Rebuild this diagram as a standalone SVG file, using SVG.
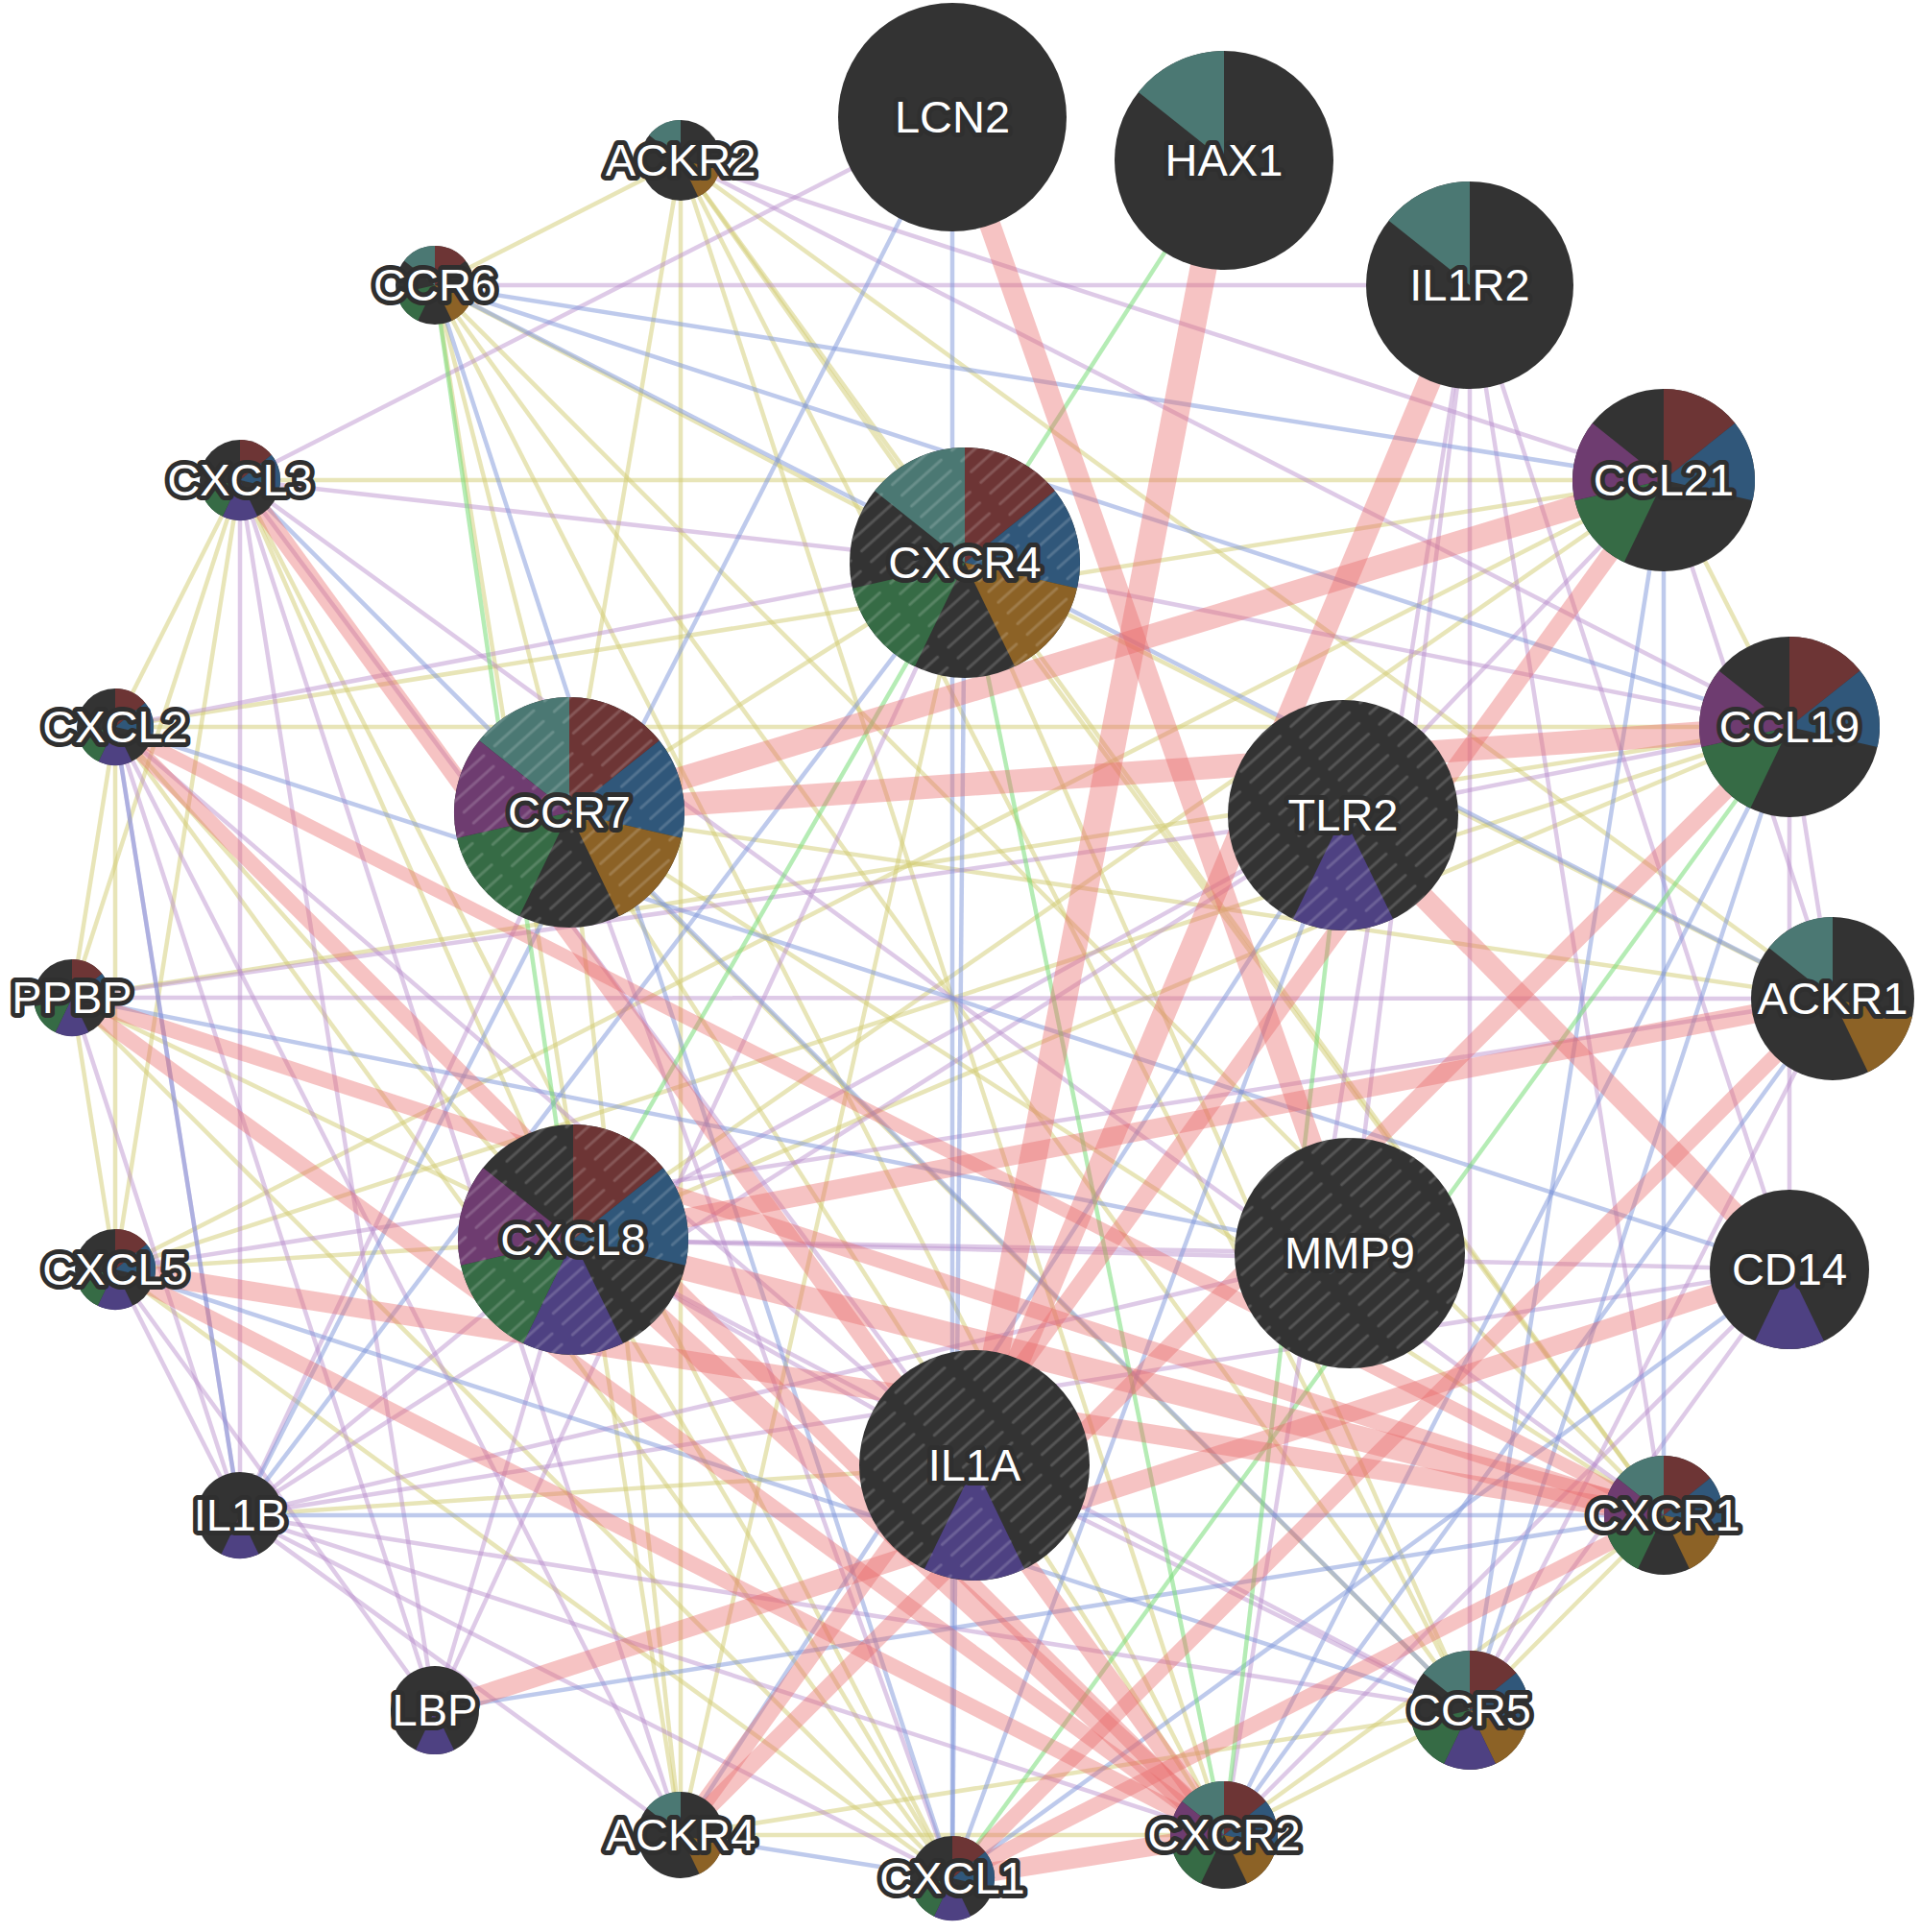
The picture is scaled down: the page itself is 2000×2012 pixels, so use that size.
<svg xmlns="http://www.w3.org/2000/svg" xmlns:xlink="http://www.w3.org/1999/xlink" width="2000" height="2012" viewBox="0 0 2000 2012">
<style>
.p{stroke:#e86a6a;stroke-opacity:.4;fill:none}
.c{stroke:#b58ac9;stroke-opacity:.45;stroke-width:4.5;fill:none}
.s{stroke:#d2cc72;stroke-opacity:.5;stroke-width:4.5;fill:none}
.l{stroke:#7d95d9;stroke-opacity:.5;stroke-width:4.5;fill:none}
.g{stroke:#79dc79;stroke-opacity:.55;stroke-width:4.5;fill:none}
.base{fill:#333333}
.lb{font-family:"Liberation Sans",Arial,sans-serif;font-size:47px;fill:#ffffff;stroke:#2f2f2f;stroke-width:10px;paint-order:stroke;stroke-linejoin:round;text-anchor:middle}
</style>
<defs>
<path id="w1" fill="#6d3535" d="M0,0 L0,-100 A100,100 0 0 1 78.18,-62.35 Z"/>
<path id="w2" fill="#30577a" d="M0,0 L78.18,-62.35 A100,100 0 0 1 97.49,22.25 Z"/>
<path id="w3" fill="#8c6226" d="M0,0 L97.49,22.25 A100,100 0 0 1 43.39,90.1 Z"/>
<path id="w4" fill="#4e4182" d="M0,0 L43.39,90.1 A100,100 0 0 1 -43.39,90.1 Z"/>
<path id="w5" fill="#366b45" d="M0,0 L-43.39,90.1 A100,100 0 0 1 -97.49,22.25 Z"/>
<path id="w6" fill="#6e3c70" d="M0,0 L-97.49,22.25 A100,100 0 0 1 -78.18,-62.35 Z"/>
<path id="w7" fill="#4b7873" d="M0,0 L-78.18,-62.35 A100,100 0 0 1 0,-100 Z"/>
<pattern id="hatch" patternUnits="userSpaceOnUse" width="70" height="15" patternTransform="rotate(-42)">
<line x1="3" y1="7" x2="58" y2="7" stroke="#ffffff" stroke-opacity="0.17" stroke-width="3" stroke-linecap="round"/>
</pattern>
</defs>
<rect width="2000" height="2012" fill="#ffffff"/>
<g id="edges">
<line class="s" x1="453" y1="297" x2="709" y2="167"/>
<line class="s" x1="453" y1="297" x2="593" y2="846"/>
<line class="s" x1="453" y1="297" x2="1005" y2="586"/>
<line class="s" x1="453" y1="297" x2="1531" y2="1781"/>
<line class="s" x1="453" y1="297" x2="1733" y2="1578"/>
<line class="s" x1="453" y1="297" x2="1275" y2="1911"/>
<line class="s" x1="453" y1="297" x2="709" y2="1911"/>
<line class="s" x1="709" y1="167" x2="593" y2="846"/>
<line class="s" x1="709" y1="167" x2="1005" y2="586"/>
<line class="s" x1="709" y1="167" x2="1531" y2="1781"/>
<line class="s" x1="709" y1="167" x2="1733" y2="1578"/>
<line class="s" x1="709" y1="167" x2="1275" y2="1911"/>
<line class="s" x1="709" y1="167" x2="709" y2="1911"/>
<line class="s" x1="709" y1="167" x2="1909" y2="1040"/>
<line class="s" x1="593" y1="846" x2="1005" y2="586"/>
<line class="s" x1="593" y1="846" x2="1531" y2="1781"/>
<line class="s" x1="593" y1="846" x2="1733" y2="1578"/>
<line class="s" x1="593" y1="846" x2="1275" y2="1911"/>
<line class="s" x1="593" y1="846" x2="709" y2="1911"/>
<line class="s" x1="593" y1="846" x2="1909" y2="1040"/>
<line class="s" x1="1005" y1="586" x2="1531" y2="1781"/>
<line class="s" x1="1005" y1="586" x2="1733" y2="1578"/>
<line class="s" x1="1005" y1="586" x2="709" y2="1911"/>
<line class="s" x1="1005" y1="586" x2="1909" y2="1040"/>
<line class="s" x1="1531" y1="1781" x2="1733" y2="1578"/>
<line class="s" x1="1531" y1="1781" x2="1275" y2="1911"/>
<line class="s" x1="1531" y1="1781" x2="709" y2="1911"/>
<line class="s" x1="1733" y1="1578" x2="1275" y2="1911"/>
<line class="s" x1="1275" y1="1911" x2="709" y2="1911"/>
<line class="s" x1="992" y1="1956" x2="120" y2="757"/>
<line class="s" x1="992" y1="1956" x2="250" y2="500"/>
<line class="s" x1="992" y1="1956" x2="120" y2="1322"/>
<line class="s" x1="992" y1="1956" x2="597" y2="1291"/>
<line class="s" x1="992" y1="1956" x2="75" y2="1039"/>
<line class="s" x1="120" y1="757" x2="250" y2="500"/>
<line class="s" x1="120" y1="757" x2="120" y2="1322"/>
<line class="s" x1="120" y1="757" x2="597" y2="1291"/>
<line class="s" x1="120" y1="757" x2="75" y2="1039"/>
<line class="s" x1="250" y1="500" x2="120" y2="1322"/>
<line class="s" x1="250" y1="500" x2="597" y2="1291"/>
<line class="s" x1="250" y1="500" x2="75" y2="1039"/>
<line class="s" x1="120" y1="1322" x2="597" y2="1291"/>
<line class="s" x1="120" y1="1322" x2="75" y2="1039"/>
<line class="s" x1="597" y1="1291" x2="75" y2="1039"/>
<line class="s" x1="1864" y1="757" x2="1733" y2="500"/>
<line class="s" x1="1864" y1="757" x2="597" y2="1291"/>
<line class="s" x1="1733" y1="500" x2="597" y2="1291"/>
<line class="s" x1="1864" y1="757" x2="120" y2="757"/>
<line class="s" x1="1733" y1="500" x2="250" y2="500"/>
<line class="s" x1="1864" y1="757" x2="75" y2="1039"/>
<line class="s" x1="1733" y1="500" x2="120" y2="757"/>
<line class="s" x1="1733" y1="500" x2="120" y2="1322"/>
<line class="s" x1="1864" y1="757" x2="120" y2="1322"/>
<line class="s" x1="1015" y1="1526" x2="250" y2="1578"/>
<line class="c" x1="250" y1="1578" x2="597" y2="1291"/>
<line class="c" x1="250" y1="1578" x2="120" y2="757"/>
<line class="c" x1="250" y1="1578" x2="250" y2="500"/>
<line class="c" x1="250" y1="1578" x2="992" y2="1956"/>
<line class="c" x1="250" y1="1578" x2="1399" y2="849"/>
<line class="c" x1="250" y1="1578" x2="1864" y2="1322"/>
<line class="c" x1="250" y1="1578" x2="1406" y2="1305"/>
<line class="c" x1="250" y1="1578" x2="1275" y2="1911"/>
<line class="c" x1="250" y1="1578" x2="593" y2="846"/>
<line class="c" x1="250" y1="1578" x2="1531" y2="1781"/>
<line class="c" x1="1015" y1="1526" x2="597" y2="1291"/>
<line class="c" x1="1015" y1="1526" x2="250" y2="500"/>
<line class="c" x1="1015" y1="1526" x2="120" y2="757"/>
<line class="c" x1="597" y1="1291" x2="1406" y2="1305"/>
<line class="c" x1="597" y1="1291" x2="1399" y2="849"/>
<line class="c" x1="597" y1="1291" x2="1864" y2="1322"/>
<line class="c" x1="597" y1="1291" x2="453" y2="1781"/>
<line class="c" x1="1864" y1="1322" x2="1531" y2="1781"/>
<line class="c" x1="1864" y1="1322" x2="1275" y2="1911"/>
<line class="c" x1="1864" y1="1322" x2="1864" y2="757"/>
<line class="c" x1="1531" y1="297" x2="1864" y2="1322"/>
<line class="c" x1="1531" y1="297" x2="1733" y2="1578"/>
<line class="c" x1="1531" y1="297" x2="1406" y2="1305"/>
<line class="c" x1="1531" y1="297" x2="1275" y2="1911"/>
<line class="c" x1="1531" y1="297" x2="1531" y2="1781"/>
<line class="c" x1="1531" y1="297" x2="453" y2="297"/>
<line class="c" x1="709" y1="167" x2="1733" y2="500"/>
<line class="c" x1="709" y1="167" x2="1864" y2="757"/>
<line class="c" x1="992" y1="122" x2="250" y2="500"/>
<line class="c" x1="593" y1="846" x2="992" y2="1956"/>
<line class="c" x1="1005" y1="586" x2="250" y2="500"/>
<line class="c" x1="1005" y1="586" x2="120" y2="757"/>
<line class="c" x1="1005" y1="586" x2="1864" y2="757"/>
<line class="c" x1="1005" y1="586" x2="453" y2="1781"/>
<line class="c" x1="1733" y1="1578" x2="250" y2="500"/>
<line class="c" x1="120" y1="1322" x2="250" y2="1578"/>
<line class="c" x1="120" y1="1322" x2="453" y2="1781"/>
<line class="c" x1="75" y1="1039" x2="250" y2="1578"/>
<line class="c" x1="75" y1="1039" x2="1399" y2="849"/>
<line class="c" x1="120" y1="757" x2="453" y2="1781"/>
<line class="c" x1="250" y1="500" x2="453" y2="1781"/>
<line class="c" x1="120" y1="757" x2="709" y2="1911"/>
<line class="c" x1="250" y1="500" x2="709" y2="1911"/>
<line class="c" x1="1733" y1="500" x2="1399" y2="849"/>
<line class="c" x1="1864" y1="757" x2="1399" y2="849"/>
<line class="c" x1="1733" y1="500" x2="1909" y2="1040"/>
<line class="c" x1="1864" y1="757" x2="1909" y2="1040"/>
<line class="c" x1="1909" y1="1040" x2="1531" y2="1781"/>
<line class="c" x1="1909" y1="1040" x2="120" y2="1322"/>
<line class="c" x1="1909" y1="1040" x2="75" y2="1039"/>
<line class="c" x1="1531" y1="1781" x2="1015" y2="1526"/>
<line class="c" x1="1531" y1="1781" x2="597" y2="1291"/>
<line class="c" x1="709" y1="1911" x2="250" y2="1578"/>
<line class="l" x1="453" y1="297" x2="1733" y2="500"/>
<line class="l" x1="453" y1="297" x2="1864" y2="757"/>
<line class="l" x1="453" y1="297" x2="1909" y2="1040"/>
<line class="l" x1="453" y1="297" x2="992" y2="1956"/>
<line class="l" x1="992" y1="122" x2="992" y2="1956"/>
<line class="l" x1="992" y1="122" x2="250" y2="1578"/>
<line class="l" x1="120" y1="757" x2="1864" y2="1322"/>
<line class="l" x1="250" y1="500" x2="1531" y2="1781"/>
<line class="l" x1="120" y1="1322" x2="1531" y2="1781"/>
<line class="l" x1="75" y1="1039" x2="1406" y2="1305"/>
<line class="l" x1="250" y1="1578" x2="1005" y2="586"/>
<line class="l" x1="1864" y1="757" x2="1275" y2="1911"/>
<line class="l" x1="1733" y1="500" x2="1733" y2="1578"/>
<line class="l" x1="1733" y1="500" x2="1531" y2="1781"/>
<line class="l" x1="1864" y1="757" x2="1531" y2="1781"/>
<line class="l" x1="1909" y1="1040" x2="1275" y2="1911"/>
<line class="l" x1="1864" y1="1322" x2="992" y2="1956"/>
<line class="l" x1="1399" y1="849" x2="992" y2="1956"/>
<line class="l" x1="1399" y1="849" x2="709" y2="1911"/>
<line class="l" x1="1005" y1="586" x2="992" y2="1956"/>
<line class="l" x1="453" y1="1781" x2="1733" y2="1578"/>
<line class="l" x1="250" y1="1578" x2="1733" y2="1578"/>
<line class="l" x1="709" y1="1911" x2="992" y2="1956"/>
<line class="l" x1="120" y1="757" x2="250" y2="1578"/>
<line class="g" x1="1275" y1="167" x2="1005" y2="586"/>
<line class="g" x1="453" y1="297" x2="597" y2="1291"/>
<line class="g" x1="1399" y1="849" x2="1275" y2="1911"/>
<line class="g" x1="597" y1="1291" x2="1005" y2="586"/>
<line class="g" x1="1864" y1="757" x2="992" y2="1956"/>
<line class="g" x1="1005" y1="586" x2="1275" y2="1911"/>
<line class="p" stroke-width="22" x1="992" y1="122" x2="1406" y2="1305"/>
<line class="p" stroke-width="28" x1="1275" y1="167" x2="1015" y2="1526"/>
<line class="p" stroke-width="24" x1="1531" y1="297" x2="1015" y2="1526"/>
<line class="p" stroke-width="24" x1="1733" y1="500" x2="593" y2="846"/>
<line class="p" stroke-width="24" x1="1864" y1="757" x2="593" y2="846"/>
<line class="p" stroke-width="18" x1="1733" y1="500" x2="709" y2="1911"/>
<line class="p" stroke-width="18" x1="1864" y1="757" x2="709" y2="1911"/>
<line class="p" stroke-width="26" x1="597" y1="1291" x2="1733" y2="1578"/>
<line class="p" stroke-width="24" x1="597" y1="1291" x2="1275" y2="1911"/>
<line class="p" stroke-width="20" x1="597" y1="1291" x2="1909" y2="1040"/>
<line class="p" stroke-width="20" x1="992" y1="1956" x2="1275" y2="1911"/>
<line class="p" stroke-width="16" x1="992" y1="1956" x2="1909" y2="1040"/>
<line class="p" stroke-width="16" x1="992" y1="1956" x2="1733" y2="1578"/>
<line class="p" stroke-width="16" x1="120" y1="757" x2="1275" y2="1911"/>
<line class="p" stroke-width="18" x1="250" y1="500" x2="1275" y2="1911"/>
<line class="p" stroke-width="16" x1="120" y1="1322" x2="1275" y2="1911"/>
<line class="p" stroke-width="20" x1="120" y1="1322" x2="1733" y2="1578"/>
<line class="p" stroke-width="16" x1="75" y1="1039" x2="1275" y2="1911"/>
<line class="p" stroke-width="16" x1="75" y1="1039" x2="1733" y2="1578"/>
<line class="p" stroke-width="22" x1="1399" y1="849" x2="1864" y2="1322"/>
<line class="p" stroke-width="20" x1="453" y1="1781" x2="1864" y2="1322"/>
<line class="p" stroke-width="14" x1="120" y1="757" x2="1733" y2="1578"/>
</g>
<g id="node-LCN2"><circle class="base" cx="992" cy="122" r="119"/><text class="lb" x="992" y="138">LCN2</text></g>
<g id="node-HAX1"><circle class="base" cx="1275" cy="167" r="114"/><use href="#w7" transform="translate(1275 167) scale(1.14)"/><text class="lb" x="1275" y="183">HAX1</text></g>
<g id="node-IL1R2"><circle class="base" cx="1531" cy="297" r="108"/><use href="#w7" transform="translate(1531 297) scale(1.08)"/><text class="lb" x="1531" y="313">IL1R2</text></g>
<g id="node-CCL21"><circle class="base" cx="1733" cy="500" r="95"/>
<use href="#w1" transform="translate(1733 500) scale(.95)"/><use href="#w2" transform="translate(1733 500) scale(.95)"/><use href="#w5" transform="translate(1733 500) scale(.95)"/><use href="#w6" transform="translate(1733 500) scale(.95)"/>
<text class="lb" x="1733" y="516">CCL21</text></g>
<g id="node-CCL19"><circle class="base" cx="1864" cy="757" r="94"/>
<use href="#w1" transform="translate(1864 757) scale(.94)"/><use href="#w2" transform="translate(1864 757) scale(.94)"/><use href="#w5" transform="translate(1864 757) scale(.94)"/><use href="#w6" transform="translate(1864 757) scale(.94)"/>
<text class="lb" x="1864" y="773">CCL19</text></g>
<g id="node-ACKR1"><circle class="base" cx="1909" cy="1040" r="85"/>
<use href="#w7" transform="translate(1909 1040) scale(.85)"/><use href="#w3" transform="translate(1909 1040) scale(.85)"/>
<text class="lb" x="1909" y="1056">ACKR1</text></g>
<g id="node-CD14"><circle class="base" cx="1864" cy="1322" r="83"/>
<use href="#w4" transform="translate(1864 1322) scale(.83)"/>
<text class="lb" x="1864" y="1338">CD14</text></g>
<g id="node-CXCR1"><circle class="base" cx="1733" cy="1578" r="62"/>
<use href="#w7" transform="translate(1733 1578) scale(.62)"/><use href="#w1" transform="translate(1733 1578) scale(.62)"/><use href="#w2" transform="translate(1733 1578) scale(.62)"/><use href="#w3" transform="translate(1733 1578) scale(.62)"/><use href="#w5" transform="translate(1733 1578) scale(.62)"/><use href="#w6" transform="translate(1733 1578) scale(.62)"/>
<text class="lb" x="1733" y="1594">CXCR1</text></g>
<g id="node-CCR5"><circle class="base" cx="1531" cy="1781" r="62"/>
<use href="#w7" transform="translate(1531 1781) scale(.62)"/><use href="#w1" transform="translate(1531 1781) scale(.62)"/><use href="#w2" transform="translate(1531 1781) scale(.62)"/><use href="#w3" transform="translate(1531 1781) scale(.62)"/><use href="#w4" transform="translate(1531 1781) scale(.62)"/><use href="#w5" transform="translate(1531 1781) scale(.62)"/>
<text class="lb" x="1531" y="1797">CCR5</text></g>
<g id="node-CXCR2"><circle class="base" cx="1275" cy="1911" r="56"/>
<use href="#w7" transform="translate(1275 1911) scale(.56)"/><use href="#w1" transform="translate(1275 1911) scale(.56)"/><use href="#w2" transform="translate(1275 1911) scale(.56)"/><use href="#w3" transform="translate(1275 1911) scale(.56)"/><use href="#w5" transform="translate(1275 1911) scale(.56)"/><use href="#w6" transform="translate(1275 1911) scale(.56)"/>
<text class="lb" x="1275" y="1927">CXCR2</text></g>
<g id="node-CXCL1"><circle class="base" cx="992" cy="1956" r="44"/>
<use href="#w1" transform="translate(992 1956) scale(.44)"/><use href="#w2" transform="translate(992 1956) scale(.44)"/><use href="#w4" transform="translate(992 1956) scale(.44)"/><use href="#w5" transform="translate(992 1956) scale(.44)"/>
<text class="lb" x="992" y="1972">CXCL1</text></g>
<g id="node-ACKR4"><circle class="base" cx="709" cy="1911" r="45"/>
<use href="#w7" transform="translate(709 1911) scale(.45)"/><use href="#w3" transform="translate(709 1911) scale(.45)"/>
<text class="lb" x="709" y="1927">ACKR4</text></g>
<g id="node-LBP"><circle class="base" cx="453" cy="1781" r="46"/>
<use href="#w4" transform="translate(453 1781) scale(.46)"/>
<text class="lb" x="453" y="1797">LBP</text></g>
<g id="node-IL1B"><circle class="base" cx="250" cy="1578" r="45"/>
<use href="#w4" transform="translate(250 1578) scale(.45)"/>
<text class="lb" x="250" y="1594">IL1B</text></g>
<g id="node-CXCL5"><circle class="base" cx="120" cy="1322" r="42"/>
<use href="#w1" transform="translate(120 1322) scale(.42)"/><use href="#w2" transform="translate(120 1322) scale(.42)"/><use href="#w4" transform="translate(120 1322) scale(.42)"/><use href="#w5" transform="translate(120 1322) scale(.42)"/>
<text class="lb" x="120" y="1338">CXCL5</text></g>
<g id="node-PPBP"><circle class="base" cx="75" cy="1039" r="40"/>
<use href="#w1" transform="translate(75 1039) scale(.4)"/><use href="#w2" transform="translate(75 1039) scale(.4)"/><use href="#w4" transform="translate(75 1039) scale(.4)"/><use href="#w5" transform="translate(75 1039) scale(.4)"/>
<text class="lb" x="75" y="1055">PPBP</text></g>
<g id="node-CXCL2"><circle class="base" cx="120" cy="757" r="40"/>
<use href="#w1" transform="translate(120 757) scale(.4)"/><use href="#w2" transform="translate(120 757) scale(.4)"/><use href="#w4" transform="translate(120 757) scale(.4)"/><use href="#w5" transform="translate(120 757) scale(.4)"/>
<text class="lb" x="120" y="773">CXCL2</text></g>
<g id="node-CXCL3"><circle class="base" cx="250" cy="500" r="42"/>
<use href="#w1" transform="translate(250 500) scale(.42)"/><use href="#w2" transform="translate(250 500) scale(.42)"/><use href="#w4" transform="translate(250 500) scale(.42)"/><use href="#w5" transform="translate(250 500) scale(.42)"/>
<text class="lb" x="250" y="516">CXCL3</text></g>
<g id="node-CCR6"><circle class="base" cx="453" cy="297" r="41"/>
<use href="#w7" transform="translate(453 297) scale(.41)"/><use href="#w1" transform="translate(453 297) scale(.41)"/><use href="#w3" transform="translate(453 297) scale(.41)"/><use href="#w5" transform="translate(453 297) scale(.41)"/>
<text class="lb" x="453" y="313">CCR6</text></g>
<g id="node-ACKR2"><circle class="base" cx="709" cy="167" r="42"/>
<use href="#w7" transform="translate(709 167) scale(.42)"/><use href="#w3" transform="translate(709 167) scale(.42)"/>
<text class="lb" x="709" y="183">ACKR2</text></g>
<g id="node-CXCR4"><circle class="base" cx="1005" cy="586" r="120"/>
<use href="#w7" transform="translate(1005 586) scale(1.2)"/><use href="#w1" transform="translate(1005 586) scale(1.2)"/><use href="#w2" transform="translate(1005 586) scale(1.2)"/><use href="#w3" transform="translate(1005 586) scale(1.2)"/><use href="#w5" transform="translate(1005 586) scale(1.2)"/>
<circle cx="1005" cy="586" r="120" fill="url(#hatch)"/>
<text class="lb" x="1005" y="602">CXCR4</text></g>
<g id="node-CCR7"><circle class="base" cx="593" cy="846" r="120"/>
<use href="#w7" transform="translate(593 846) scale(1.2)"/><use href="#w1" transform="translate(593 846) scale(1.2)"/><use href="#w2" transform="translate(593 846) scale(1.2)"/><use href="#w3" transform="translate(593 846) scale(1.2)"/><use href="#w5" transform="translate(593 846) scale(1.2)"/><use href="#w6" transform="translate(593 846) scale(1.2)"/>
<circle cx="593" cy="846" r="120" fill="url(#hatch)"/>
<text class="lb" x="593" y="862">CCR7</text></g>
<g id="node-TLR2"><circle class="base" cx="1399" cy="849" r="120"/>
<use href="#w4" transform="translate(1399 849) scale(1.2)"/>
<circle cx="1399" cy="849" r="120" fill="url(#hatch)"/>
<text class="lb" x="1399" y="865">TLR2</text></g>
<g id="node-CXCL8"><circle class="base" cx="597" cy="1291" r="120"/>
<use href="#w1" transform="translate(597 1291) scale(1.2)"/><use href="#w2" transform="translate(597 1291) scale(1.2)"/><use href="#w4" transform="translate(597 1291) scale(1.2)"/><use href="#w5" transform="translate(597 1291) scale(1.2)"/><use href="#w6" transform="translate(597 1291) scale(1.2)"/>
<circle cx="597" cy="1291" r="120" fill="url(#hatch)"/>
<text class="lb" x="597" y="1307">CXCL8</text></g>
<g id="node-MMP9"><circle class="base" cx="1406" cy="1305" r="120"/>
<circle cx="1406" cy="1305" r="120" fill="url(#hatch)"/>
<text class="lb" x="1406" y="1321">MMP9</text></g>
<g id="node-IL1A"><circle class="base" cx="1015" cy="1526" r="120"/>
<use href="#w4" transform="translate(1015 1526) scale(1.2)"/>
<circle cx="1015" cy="1526" r="120" fill="url(#hatch)"/>
<text class="lb" x="1015" y="1542">IL1A</text></g>
</svg>
